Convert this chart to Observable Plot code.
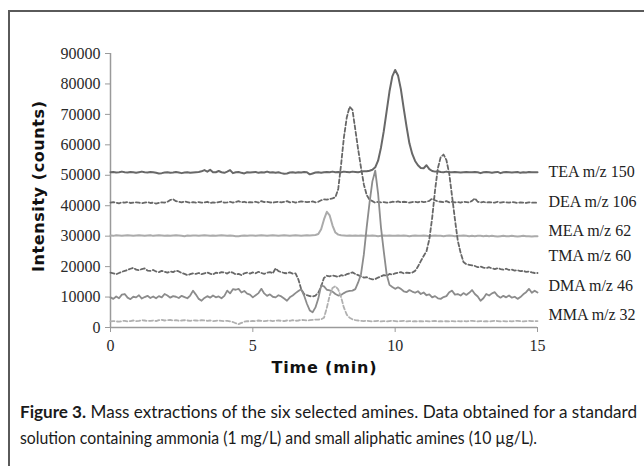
<!DOCTYPE html>
<html>
<head>
<meta charset="utf-8">
<script src="https://cdn.jsdelivr.net/npm/d3@7"></script>
<script src="https://cdn.jsdelivr.net/npm/@observablehq/plot@0.6"></script>
<style>
  html, body { margin: 0; padding: 0; background: #fff; }
  #wrap { position: relative; width: 644px; height: 466px; overflow: hidden; background: #fff; }
  #frame { position: absolute; left: 8px; top: 10px; width: 640px; height: 460px; border-top: 2px solid #5a5a5a; border-left: 2px solid #5a5a5a; box-sizing: border-box; }
  #chart { position: absolute; left: 0; top: 0; }
  #caption { position: absolute; left: 20px; top: 399px; font-family: Lato, "Open Sans", sans-serif; font-size: 17px; line-height: 26px; color: #1a1a1a; white-space: nowrap; }
  #caption div { transform-origin: 0 50%; }
</style>
</head>
<body>
<div id="wrap">
  <div id="frame"></div>
  <div id="chart"></div>
  <div id="caption">
    <div id="cap1"><b>Figure 3.</b> Mass extractions of the six selected amines. Data obtained for a standard</div>
    <div id="cap2">solution containing ammonia (1 mg/L) and small aliphatic amines (10 µg/L).</div>
  </div>
</div>
<script>
const time = [
  0.0,0.1,0.2,0.3,0.4,0.5,0.6,0.7,0.8,0.9,
  1.0,1.1,1.2,1.3,1.4,1.5,1.6,1.7,1.8,1.9,
  2.0,2.1,2.2,2.3,2.4,2.5,2.6,2.7,2.8,2.9,
  3.0,3.1,3.2,3.3,3.4,3.5,3.6,3.7,3.8,3.9,
  4.0,4.1,4.2,4.3,4.4,4.5,4.6,4.7,4.8,4.9,
  5.0,5.1,5.2,5.3,5.4,5.5,5.6,5.7,5.8,5.9,
  6.0,6.1,6.2,6.3,6.4,6.5,6.6,6.7,6.8,6.9,
  7.0,7.1,7.2,7.3,7.4,7.5,7.6,7.7,7.8,7.9,
  8.0,8.1,8.2,8.3,8.4,8.5,8.6,8.7,8.8,8.9,
  9.0,9.1,9.2,9.3,9.4,9.5,9.6,9.7,9.8,9.9,
  10.0,10.1,10.2,10.3,10.4,10.5,10.6,10.7,10.8,10.9,
  11.0,11.1,11.2,11.3,11.4,11.5,11.6,11.7,11.8,11.9,
  12.0,12.1,12.2,12.3,12.4,12.5,12.6,12.7,12.8,12.9,
  13.0,13.1,13.2,13.3,13.4,13.5,13.6,13.7,13.8,13.9,
  14.0,14.1,14.2,14.3,14.4,14.5,14.6,14.7,14.8,14.9,
  15.0
];

const tea = [
  51000,51100,50900,51000,51200,51000,50900,51100,51000,50800,
  51000,51200,51000,50900,51100,51000,50800,50600,50700,50900,
  51000,50800,50900,51100,50900,50700,50900,51000,50800,50900,
  51000,51100,51300,51700,51200,51800,51000,51000,51400,51000,
  50800,51200,51700,50700,51000,51100,50800,50600,51000,50900,
  51000,51100,50800,51000,50900,51200,50900,51000,50800,51000,
  50700,50500,50600,50900,51000,50800,51000,50900,51100,51000,
  50300,50600,50900,51000,50800,51000,51100,51000,51200,51000,
  51100,51000,51200,51100,51000,51200,51100,51000,51200,51300,
  51300,51500,51800,52600,54800,59000,64500,71000,77500,82500,
  84600,82800,78300,72000,66000,60500,57000,54700,53300,52400,
  52300,53300,52000,51400,51200,51300,51100,51000,51200,51000,
  51000,51100,51000,50900,51000,51100,51000,51000,51100,51000,
  50700,51000,51100,51000,50800,51000,51100,50700,51000,51100,
  51000,50900,51000,51100,50800,51000,50900,51100,51000,51000,
  51000
];

const dea = [
  41000,41200,41000,40800,41100,41000,41200,40900,41000,41100,
  41000,40800,41000,41200,40900,41000,40700,40900,41100,41000,
  41300,41900,42100,41500,41300,41100,41400,41200,41000,41200,
  41000,41200,41000,41100,41300,40900,41100,41000,41200,41400,
  41000,41100,41300,41000,41200,41500,41100,41300,41000,41200,
  41100,41300,41000,41500,41200,41300,41100,41000,41200,41300,
  41100,41300,41500,41100,41300,41000,41200,41400,41300,41200,
  41300,41400,41100,41300,41800,42100,42000,42200,42400,42800,
  45500,53500,62500,69000,72500,71500,65000,58500,52500,47000,
  43500,42000,41500,41000,41300,41100,41200,41000,41100,41300,
  41200,41400,41100,41300,41200,41000,41200,41300,41100,41400,
  41200,41300,41600,42400,41800,41400,41300,41200,41500,41100,
  41300,41100,41200,41000,41300,41200,41100,41600,42400,41300,
  41100,41300,41000,41200,41100,41000,41300,41000,41200,41100,
  41000,41200,41100,40900,41100,41000,40900,41100,41000,41000,
  41000
];

const mea = [
  30200,30100,30300,30200,30100,30200,30300,30200,30100,30200,
  30300,30200,30100,30200,30300,30100,30200,30300,30200,30100,
  30200,30100,30200,30300,30200,30100,30000,30200,30100,30200,
  30200,30100,30200,30300,30200,30100,30200,30100,30200,30300,
  30200,30100,30200,30100,30000,30000,30100,30200,30100,30200,
  30200,30100,30200,30300,30200,30100,30200,30300,30200,30100,
  30200,30300,30200,30100,30200,30300,30200,30100,30200,30300,
  30200,30300,30400,30700,32300,35500,38000,36800,33500,31200,
  30500,30300,30200,30100,30200,30100,30200,30100,30200,30100,
  30200,30100,30200,30100,30000,30100,30200,30100,30200,30100,
  30100,30200,30100,30200,30100,30000,30100,30200,30100,30100,
  30200,30100,30000,30100,30200,30100,30100,30000,30100,30200,
  30100,30000,30100,30100,30200,30100,30000,30100,30000,30100,
  30100,30000,30100,30000,30100,30000,29900,30000,30100,30000,
  30000,30100,30000,29900,30000,30100,30000,30000,29900,30000,
  30000
];

const tma = [
  18000,17800,17500,17900,18300,18600,18900,19300,19600,19000,
  18800,19200,19400,18700,18600,18900,18400,18200,18600,18300,
  18000,18400,18200,18700,18400,17900,17600,17200,17500,17800,
  17600,17900,17500,17800,18100,17700,17400,18000,17800,18200,
  18100,17700,18300,18000,17400,17600,17200,17800,18000,17700,
  18100,17800,18300,17900,17600,18000,18200,17800,19400,18500,
  18200,17900,17800,18100,17700,17800,15800,12500,11000,10600,
  10300,10200,10500,11400,13500,16300,17000,16800,17100,16900,
  16600,17200,17000,17500,17800,18100,17600,17200,16800,16400,
  16500,16100,15800,15900,16400,16800,17200,17000,17600,17400,
  17800,18000,18200,17800,18000,17900,18000,18600,20000,21800,
  23500,25000,29000,36000,45000,52300,56000,56800,55000,50500,
  43000,35500,28500,24500,21500,20800,20600,20400,20200,19800,
  20000,19700,19500,19800,19400,19200,19500,19200,19000,19300,
  18900,19000,18700,18800,18500,18600,18300,18400,18100,17900,
  17900
];

const dma = [
  9900,9400,10200,9600,10800,11000,9800,9300,10100,9900,
  10600,9500,10000,10400,9700,10200,9600,10300,9900,11000,
  10500,9800,10300,10100,9700,10400,10000,9600,10500,12100,
  10800,9400,8800,9700,10300,9800,10500,9900,10200,9600,
  10400,12100,11200,12600,12400,12700,11500,12000,11100,10800,
  9900,10600,11300,12700,11200,10400,10900,10100,9900,10600,
  10200,9500,8800,9900,10500,11300,12000,12600,10500,7800,
  5600,5000,6600,9500,13800,13500,12400,12200,11800,11000,
  10500,10700,11300,11800,12000,12100,12600,14800,17500,24000,
  33000,41000,48000,51500,44000,33000,25000,17500,14000,13300,
  12700,13200,12700,11900,11600,12300,11800,11400,11900,11000,
  11500,10600,10900,9900,10300,9600,9400,10000,10300,11600,
  12100,10800,11000,10500,11300,10700,11400,12300,11000,10200,
  8800,9600,11000,10500,11200,11600,10400,9800,10400,9900,
  10500,9800,10100,9400,10000,10900,11600,12700,11400,12100,
  11500
];

const mma = [
  2000,2100,2000,1900,2100,2200,2000,2100,2300,2100,
  2200,2400,2300,2100,2200,2300,2100,2400,2500,2300,
  2400,2500,2300,2400,2200,2300,2400,2300,2200,2400,
  2300,2200,2400,2300,2200,2300,2100,2200,2300,2200,
  2100,2200,2000,1800,1400,1100,1500,1900,2100,2000,
  2200,2100,2300,2200,2100,2200,2300,2100,2200,2300,
  2200,2100,2300,2200,2400,2200,2300,2500,2400,2300,
  2400,2500,2600,2600,2700,3200,6500,10500,13000,13600,
  12500,10000,6500,4200,3200,2700,2400,2300,2200,2100,
  2200,2100,2000,2100,2200,2000,2100,2000,2100,2200,
  2100,2000,2100,2200,2000,2100,2000,2100,2000,2100,
  2000,2100,2000,2100,2200,2000,2100,2000,2100,2000,
  2100,2000,2100,2000,2100,2000,2100,2200,2100,2000,
  2100,2000,2100,2000,2100,2200,2100,2000,2100,2000,
  2100,2000,2100,2200,2100,2000,2100,2200,2100,2100,
  2100
];

const labelNames = ["TEA m/z 150", "DEA m/z 106", "MEA m/z 62", "TMA m/z 60", "DMA m/z 46", "MMA m/z 32"];
const labelY = [51200, 41400, 31800, 23400, 13700, 4300];
const yTicks = [0, 10000, 20000, 30000, 40000, 50000, 60000, 70000, 80000, 90000];
const xTicks = [0, 5, 10, 15];
const yLabel = "Intensity (counts)";
const xLabel = "Time (min)";

const seriesList = [
  {data: tea, stroke: "#686868", width: 2, dash: null},
  {data: dea, stroke: "#686868", width: 1.8, dash: "4,2.5"},
  {data: mea, stroke: "#ababab", width: 2, dash: null},
  {data: tma, stroke: "#686868", width: 1.8, dash: "4,2.5"},
  {data: dma, stroke: "#8c8c8c", width: 1.8, dash: null},
  {data: mma, stroke: "#b0b0b0", width: 1.8, dash: "4,2.5"}
];

const serif = "'Liberation Serif', 'DejaVu Serif', serif";
const boldSans = "'DejaVu Sans', Verdana, sans-serif";

const lineMarks = seriesList.map(s => Plot.lineY(s.data, {
  x: time,
  stroke: s.stroke,
  strokeWidth: s.width,
  strokeDasharray: s.dash,
  curve: "linear"
}));

const chart = Plot.plot({
  width: 644,
  height: 400,
  marginLeft: 110,
  marginRight: 107,
  marginTop: 53,
  marginBottom: 73,
  style: {background: "transparent", overflow: "visible"},
  x: {domain: [0, 15]},
  y: {domain: [0, 90000]},
  marks: [
    Plot.ruleX([0], {stroke: "#9a9a9a", strokeWidth: 1.5}),
    Plot.ruleY([0], {stroke: "#9a9a9a", strokeWidth: 1.5}),
    Plot.axisY({
      ticks: yTicks, tickSize: 5, tickPadding: 5, stroke: "#9a9a9a", fill: "#2a2a2a",
      tickFormat: d => String(d), fontSize: 16, fontFamily: serif, label: null
    }),
    Plot.axisX({
      ticks: xTicks, tickSize: 5, tickPadding: 7, stroke: "#9a9a9a", fill: "#2a2a2a",
      tickFormat: d => String(d), fontSize: 16, fontFamily: serif, label: null
    }),
    ...lineMarks,
    Plot.text(labelNames, {
      x: 15, y: labelY, text: d => d, dx: 11, textAnchor: "start",
      fontFamily: serif, fontSize: 16, fill: "#222"
    }),
    Plot.text([yLabel], {
      frameAnchor: "left", text: d => d, rotate: -90, dx: -72, dy: -4,
      textAnchor: "middle", lineAnchor: "middle",
      fontFamily: boldSans, fontWeight: "bold", fontSize: 16, fill: "#111"
    }),
    Plot.text([xLabel], {
      frameAnchor: "bottom", text: d => d, dy: 40,
      textAnchor: "middle", lineAnchor: "middle",
      fontFamily: boldSans, fontWeight: "bold", fontSize: 16, fill: "#111"
    })
  ]
});
document.getElementById("chart").appendChild(chart);

// stretch the two axis titles to the reference lengths
d3.select(chart).selectAll("text").each(function () {
  const t = this.textContent;
  if (t === yLabel) { this.setAttribute("textLength", 171); this.setAttribute("lengthAdjust", "spacing"); }
  if (t === xLabel) { this.setAttribute("textLength", 105); this.setAttribute("lengthAdjust", "spacing"); }
});

// fit caption lines to the reference width
function fit(id, target) {
  const el = document.getElementById(id);
  el.style.display = "inline-block";
  const w = el.getBoundingClientRect().width;
  el.style.display = "block";
  el.style.transform = `scaleX(${target / w})`;
}
fit("cap1", 617);
fit("cap2", 517);
</script>
</body>
</html>
